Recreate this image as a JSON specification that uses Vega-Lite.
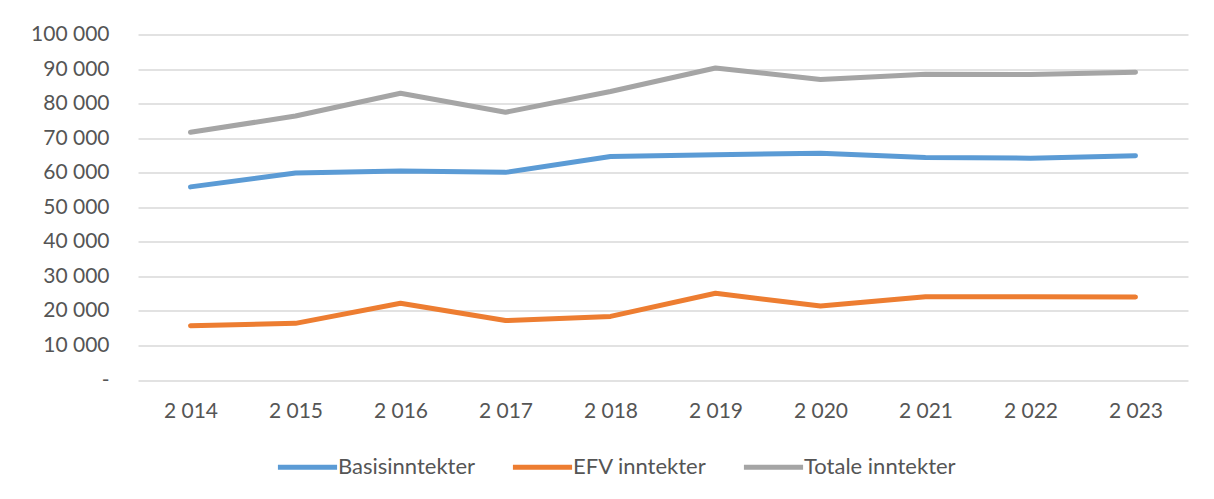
{
  "$schema": "https://vega.github.io/schema/vega-lite/v6.json",
  "width": 1050,
  "height": 345.5,
  "autosize": {"type": "none"},
  "padding": {"left": 138, "top": 34.5, "right": 26, "bottom": 119},
  "background": "white",
  "config": {
    "view": {"stroke": null},
    "font": "Lato",
    "axis": {"labelFont": "Lato", "labelFontSize": 21, "labelColor": "#555555", "domain": false, "ticks": false, "title": null},
    "legend": {"labelFont": "Lato", "labelFontSize": 22, "labelColor": "#555555"}
  },
  "data": {
    "values": [
      {"year": 2014, "series": "Basisinntekter", "value": 55900},
      {"year": 2015, "series": "Basisinntekter", "value": 59900},
      {"year": 2016, "series": "Basisinntekter", "value": 60500},
      {"year": 2017, "series": "Basisinntekter", "value": 60100},
      {"year": 2018, "series": "Basisinntekter", "value": 64700},
      {"year": 2019, "series": "Basisinntekter", "value": 65200},
      {"year": 2020, "series": "Basisinntekter", "value": 65600},
      {"year": 2021, "series": "Basisinntekter", "value": 64400},
      {"year": 2022, "series": "Basisinntekter", "value": 64200},
      {"year": 2023, "series": "Basisinntekter", "value": 64900},
      {"year": 2014, "series": "EFV inntekter", "value": 15700},
      {"year": 2015, "series": "EFV inntekter", "value": 16400},
      {"year": 2016, "series": "EFV inntekter", "value": 22200},
      {"year": 2017, "series": "EFV inntekter", "value": 17200},
      {"year": 2018, "series": "EFV inntekter", "value": 18400},
      {"year": 2019, "series": "EFV inntekter", "value": 25100},
      {"year": 2020, "series": "EFV inntekter", "value": 21400},
      {"year": 2021, "series": "EFV inntekter", "value": 24100},
      {"year": 2022, "series": "EFV inntekter", "value": 24100},
      {"year": 2023, "series": "EFV inntekter", "value": 24000},
      {"year": 2014, "series": "Totale inntekter", "value": 71700},
      {"year": 2015, "series": "Totale inntekter", "value": 76400},
      {"year": 2016, "series": "Totale inntekter", "value": 83000},
      {"year": 2017, "series": "Totale inntekter", "value": 77500},
      {"year": 2018, "series": "Totale inntekter", "value": 83500},
      {"year": 2019, "series": "Totale inntekter", "value": 90300},
      {"year": 2020, "series": "Totale inntekter", "value": 87000},
      {"year": 2021, "series": "Totale inntekter", "value": 88500},
      {"year": 2022, "series": "Totale inntekter", "value": 88400},
      {"year": 2023, "series": "Totale inntekter", "value": 89100}
    ]
  },
  "mark": {"type": "line", "strokeWidth": 5, "strokeCap": "round", "strokeJoin": "round"},
  "encoding": {
    "x": {
      "field": "year",
      "type": "ordinal",
      "axis": {
        "labelAngle": 0,
        "labelPadding": 20,
        "grid": false,
        "labelExpr": "replace(format(datum.value, ','), ',', ' ')"
      }
    },
    "y": {
      "field": "value",
      "type": "quantitative",
      "scale": {"domain": [0, 100000], "nice": false},
      "axis": {
        "values": [0, 10000, 20000, 30000, 40000, 50000, 60000, 70000, 80000, 90000, 100000],
        "grid": true,
        "gridColor": "#D9D9D9",
        "gridWidth": 1.3,
        "labelPadding": 29,
        "labelExpr": "datum.value == 0 ? '-\u00a0\u00a0' : replace(format(datum.value, ','), ',', ' ')"
      }
    },
    "color": {
      "field": "series",
      "type": "nominal",
      "scale": {
        "domain": ["Basisinntekter", "EFV inntekter", "Totale inntekter"],
        "range": ["#5B9BD5", "#ED7D31", "#A5A5A5"]
      },
      "legend": {
        "title": null,
        "orient": "none",
        "direction": "horizontal",
        "legendX": 137,
        "legendY": 400,
        "symbolType": "stroke",
        "symbolSize": 3500,
        "symbolStrokeWidth": 5,
        "labelOffset": -2,
        "columnPadding": 26,
        "labelLimit": 400
      }
    }
  }
}
